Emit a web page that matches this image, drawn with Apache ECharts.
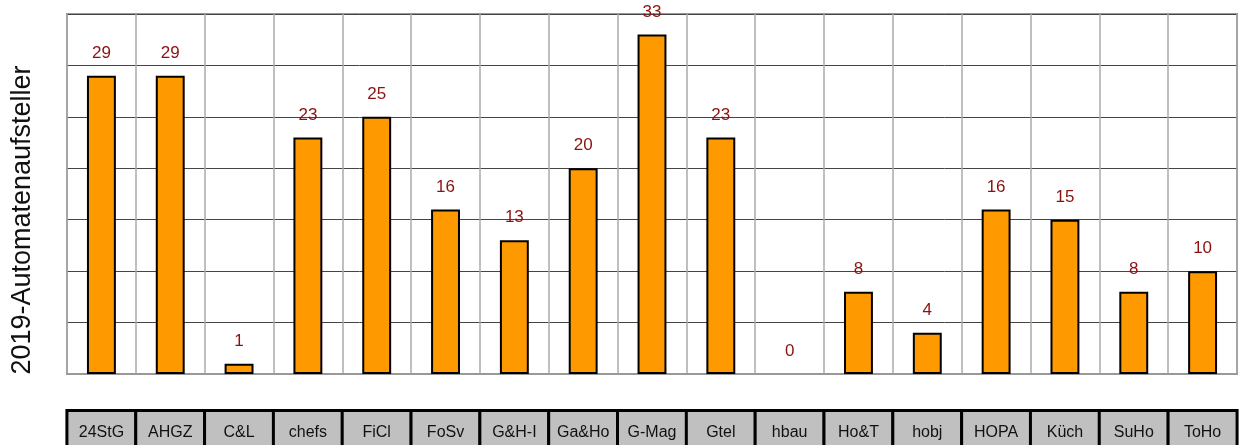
<!DOCTYPE html>
<html>
<head>
<meta charset="utf-8">
<script src="https://cdn.jsdelivr.net/npm/echarts@6/dist/echarts.min.js"></script>
<style>
html,body{margin:0;padding:0;background:#fff;}
#c{width:1239px;height:445px;}
</style>
</head>
<body>
<div id="c"></div>
<script>
const categories = ['24StG','AHGZ','C&L','chefs','FiCl','FoSv','G&H-I','Ga&Ho','G-Mag','Gtel','hbau','Ho&T','hobj','HOPA','Küch','SuHo','ToHo'];
const values = [29,29,1,23,25,16,13,20,33,23,0,8,4,16,15,8,10];
const yAxisTitle = '2019-Automatenaufsteller';

const chart = echarts.init(document.getElementById('c'), null, {renderer:'canvas'});
chart.setOption({
  animation: false,
  grid: {left: 67, right: 2, top: 14, bottom: 71, show: true, borderColor: '#999', borderWidth: 2, backgroundColor: 'transparent', containLabel: false, outerBoundsMode: 'none'},
  xAxis: {
    type: 'category',
    data: categories,
    boundaryGap: true,
    axisTick: {show: false},
    axisLine: {show: true, lineStyle: {color: '#999', width: 2}},
    splitLine: {show: true, lineStyle: {color: '#aaa', width: 1.5}},
    axisLabel: {
      interval: 0,
      margin: 38,
      fontFamily: 'Liberation Sans, Arial, sans-serif',
      fontSize: 16,
      color: '#111',
      width: 66,
      overflow: 'none',
      align: 'center',
      lineHeight: 20,
      padding: [11, 0, 14, 0],
      backgroundColor: '#c0c0c0',
      borderColor: '#000',
      borderWidth: 3
    }
  },
  yAxis: {
    type: 'value',
    min: 0, max: 35, interval: 5,
    axisLabel: {show: false},
    axisTick: {show: false},
    axisLine: {show: false},
    splitLine: {show: true, lineStyle: {color: '#444', width: 1}}
  },
  graphic: [{
    type: 'text',
    x: 23, y: 220,
    rotation: Math.PI/2,
    style: {
      text: yAxisTitle,
      font: '27px "Liberation Sans", Arial, sans-serif',
      fill: '#111',
      align: 'center',
      verticalAlign: 'middle'
    }
  }],
  series: [{
    type: 'bar',
    data: values.map(v => v === 0 ? {value: v, itemStyle: {borderWidth: 0}} : v),
    barWidth: '42%',
    itemStyle: {color: '#ff9900', borderColor: '#000', borderWidth: 2},
    label: {
      show: true,
      position: 'top',
      distance: 14,
      fontFamily: 'Liberation Sans, Arial, sans-serif',
      fontSize: 17,
      color: '#8b1010'
    }
  }]
});
</script>
</body>
</html>
